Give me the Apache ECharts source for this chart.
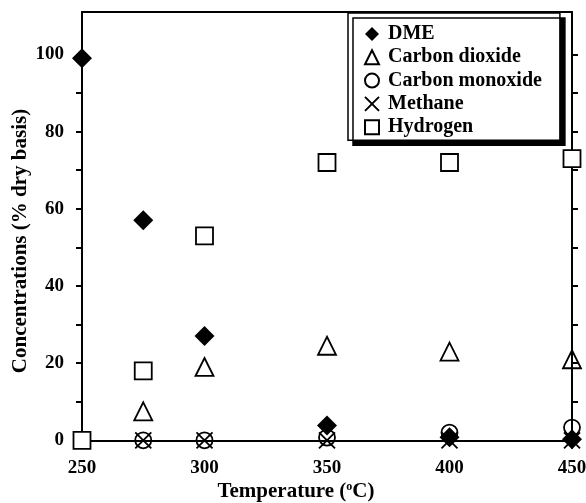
<!DOCTYPE html>
<html>
<head>
<meta charset="utf-8">
<script src="https://cdn.jsdelivr.net/npm/echarts@6/dist/echarts.min.js"></script>
<style>
  html, body { margin: 0; padding: 0; background: #fff; }
  #chart { width: 586px; height: 503px; }
</style>
</head>
<body>
<div id="chart"></div>
<script>
// Product gas composition vs. reactor temperature
const temperatures = [250, 275, 300, 350, 400, 450];
const dme            = [99, 57, 27, 3.8, 0.8, 0.3];
const carbonDioxide  = [null, 7.5, 19, 24.5, 23, 21];
const carbonMonoxide = [null, 0, 0, 0.7, 2, 3.3];
const methane        = [null, 0, 0, 0, 0, 0];
const hydrogen       = [0, 18, 53, 72, 72, 73];

const yLabelValues = [0, 20, 40, 60, 80, 100];
const yTickValues = [10, 20, 30, 40, 50, 60, 70, 80, 90, 100];

const FONT = 'Liberation Serif';
const pairs = (vals) => temperatures.map((t, i) => [t, vals[i]]).filter(p => p[1] !== null);

const crossPath = 'path://M0,0L10,10M0,10L10,0';

const chart = echarts.init(document.getElementById('chart'), null, { renderer: 'canvas' });

const hollow = (fill) => ({ color: fill, borderColor: '#000', borderWidth: 1.8, opacity: 1 });

chart.setOption({
  animation: false,
  backgroundColor: '#fff',
  grid: { left: 82, right: 14, top: 12, bottom: 55, containLabel: false, outerBoundsMode: 'none' },
  legend: {
    orient: 'vertical',
    left: 348,
    top: 13,
    padding: [11, 18, 3, 16],
    itemGap: 3.3,
    itemWidth: 14,
    itemHeight: 14,
    backgroundColor: '#fff',
    borderColor: '#000',
    borderWidth: 1.5,
    borderRadius: 0,
    shadowColor: '#000',
    shadowBlur: 0,
    shadowOffsetX: 5,
    shadowOffsetY: 5,
    textStyle: { fontFamily: FONT, fontWeight: 'bold', fontSize: 20, color: '#000', lineHeight: 20, padding: [0, 0, 0, 4] },
    data: ['DME', 'Carbon dioxide', 'Carbon monoxide', 'Methane', 'Hydrogen']
  },
  xAxis: [
    {
      type: 'value',
      min: 250, max: 450, interval: 50,
      name: 'Temperature ({sup|o}C)',
      nameLocation: 'middle',
      nameGap: 33,
      nameMoveOverlap: false,
      nameTextStyle: {
        fontFamily: FONT, fontWeight: 'bold', fontSize: 21, color: '#000',
        padding: [0, 62, 0, 0],
        rich: { sup: { fontFamily: FONT, fontWeight: 'bold', fontSize: 12, color: '#000', padding: [0, 0, 10, 0] } }
      },
      axisLine: { onZero: true, lineStyle: { color: '#000', width: 2 } },
      axisTick: { show: false },
      axisLabel: { margin: 11, fontFamily: FONT, fontWeight: 'bold', fontSize: 19, color: '#000' },
      splitLine: { show: false }
    },
    {
      type: 'value', position: 'top',
      min: 250, max: 450,
      axisLine: { onZero: false, lineStyle: { color: '#000', width: 2 } },
      axisTick: { show: false },
      axisLabel: { show: false },
      splitLine: { show: false }
    }
  ],
  yAxis: [
    {
      type: 'value',
      min: -2, max: 111,
      name: 'Concentrations (% dry basis)',
      nameLocation: 'middle',
      nameGap: 51,
      nameMoveOverlap: false,
      nameTextStyle: { fontFamily: FONT, fontWeight: 'bold', fontSize: 21, color: '#000', padding: [0, 22, 0, 0] },
      axisLine: { onZero: false, lineStyle: { color: '#000', width: 2 } },
      axisTick: { customValues: yTickValues, length: 6, lineStyle: { color: '#000', width: 2 } },
      axisLabel: { customValues: yLabelValues, margin: 18, fontFamily: FONT, fontWeight: 'bold', fontSize: 19, color: '#000' },
      splitLine: { show: false }
    },
    {
      type: 'value', position: 'right',
      min: -2, max: 111,
      axisLine: { show: true, onZero: false, lineStyle: { color: '#000', width: 2 } },
      axisTick: { show: true, customValues: yTickValues, length: 6, lineStyle: { color: '#000', width: 2 } },
      axisLabel: { show: false },
      splitLine: { show: false }
    }
  ],
  series: [
    { name: 'Hydrogen', type: 'scatter', symbol: 'rect', symbolSize: 17, itemStyle: hollow('#fff'), data: pairs(hydrogen), z: 2 },
    { name: 'Carbon dioxide', type: 'scatter', symbol: 'triangle', symbolSize: 18, itemStyle: hollow('rgba(0,0,0,0)'), data: pairs(carbonDioxide), z: 3 },
    { name: 'Methane', type: 'scatter', symbol: crossPath, symbolSize: 16, itemStyle: hollow('rgba(0,0,0,0)'), data: pairs(methane), z: 3 },
    { name: 'Carbon monoxide', type: 'scatter', symbol: 'circle', symbolSize: 16, itemStyle: hollow('rgba(0,0,0,0)'), data: pairs(carbonMonoxide), z: 4 },
    { name: 'DME', type: 'scatter', symbol: 'diamond', symbolSize: 20, itemStyle: { color: '#000', opacity: 1 }, data: pairs(dme), z: 5 }
  ]
});
</script>
</body>
</html>
